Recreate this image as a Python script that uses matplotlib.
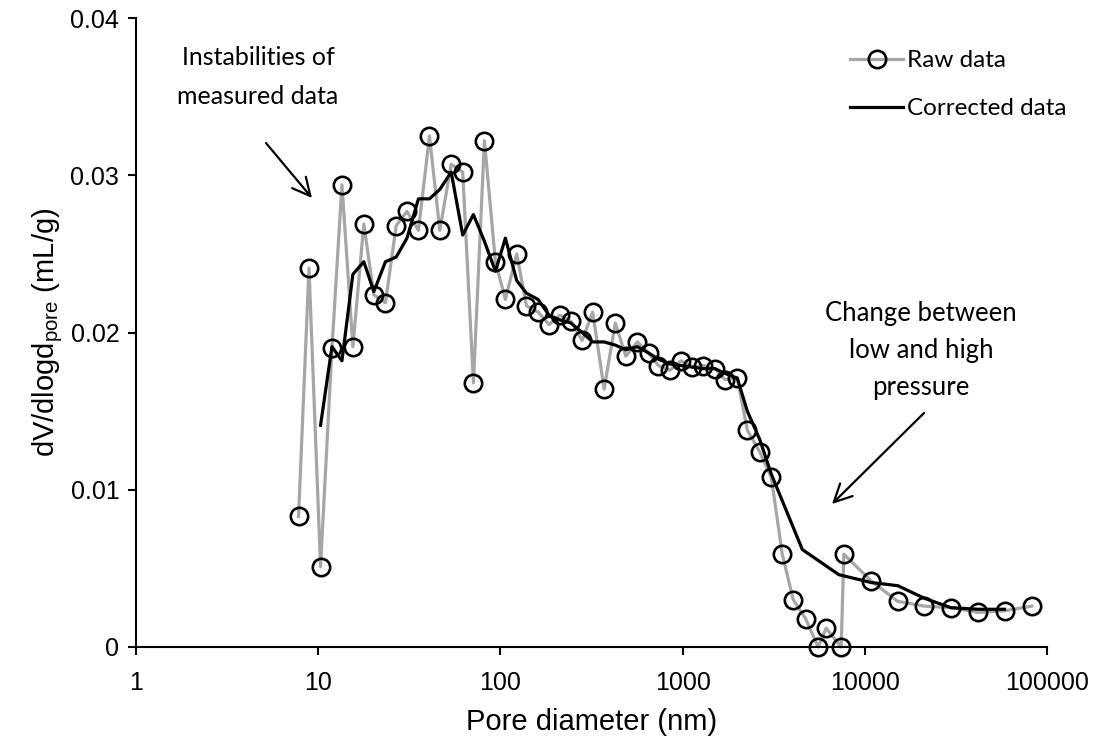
import numpy as np
import matplotlib
matplotlib.use("Agg")
import matplotlib.pyplot as plt

plt.rcParams['font.family'] = ['Liberation Sans', 'DejaVu Sans']

# Raw data
raw_d = [7.8, 8.9, 10.3, 11.9, 13.5, 15.5, 17.8, 20.2, 23.4, 26.8, 30.7, 35.5,
         40.8, 46.5, 53.7, 62.1, 71.1, 81.7, 93.9, 106.5, 122.9, 139, 161, 185,
         212, 244, 281, 321, 371, 427, 488, 565, 650, 737, 851, 978, 1132, 1295,
         1507, 1709, 1996, 2265, 2650, 3067, 3524, 4049, 4734, 5545, 6135, 7418,
         7674, 10840, 15170, 21230, 29700, 41760, 58450, 82550]
raw_v = [0.0083, 0.0241, 0.0051, 0.0190, 0.0294, 0.0191, 0.0269, 0.0224, 0.0219,
         0.0268, 0.0277, 0.0265, 0.0325, 0.0265, 0.0307, 0.0302, 0.0168, 0.0322,
         0.0245, 0.0221, 0.0250, 0.0217, 0.0213, 0.0205, 0.0211, 0.0207, 0.0195,
         0.0213, 0.0164, 0.0206, 0.0185, 0.0194, 0.0187, 0.0179, 0.0176, 0.0182,
         0.0178, 0.0179, 0.0177, 0.0170, 0.0171, 0.0138, 0.0124, 0.0108, 0.0059,
         0.0030, 0.0018, 0.0, 0.0012, 0.0, 0.0059, 0.0042, 0.0029, 0.0026, 0.0025,
         0.0022, 0.0023, 0.0026]

# Corrected data
corr_d = [10.3, 11.9, 13.5, 15.5, 17.8, 20.2, 23.4, 26.8, 30.7, 35.5, 40.8, 46.5,
          53.7, 62.1, 71.1, 81.7, 93.9, 106.5, 122.9, 139, 161, 185, 212, 244,
          281, 321, 371, 427, 488, 565, 650, 737, 851, 978, 1132, 1295, 1507,
          1709, 1996, 2265, 2650, 3067, 4540, 7200, 10840, 15170, 21230, 29700,
          41760, 58450]
corr_v = [0.0141, 0.0191, 0.0182, 0.0237, 0.0245, 0.0226, 0.0245, 0.0248, 0.0260,
          0.0285, 0.0285, 0.0291, 0.0302, 0.0262, 0.0275, 0.0258, 0.0239, 0.0260,
          0.0233, 0.0225, 0.0221, 0.0211, 0.0208, 0.0206, 0.0200, 0.0194, 0.0194,
          0.0192, 0.0189, 0.0191, 0.0187, 0.0183, 0.0180, 0.0179, 0.0178, 0.0177,
          0.0177, 0.0174, 0.0171, 0.0150, 0.0132, 0.0110, 0.0062, 0.0046, 0.0041,
          0.0039, 0.0031, 0.0025, 0.0024, 0.0024]

x_ticks = [1, 10, 100, 1000, 10000, 100000]
x_tick_labels = ['1', '10', '100', '1000', '10000', '100000']
y_ticks = [0, 0.01, 0.02, 0.03, 0.04]
y_tick_labels = ['0', '0.01', '0.02', '0.03', '0.04']

fig = plt.figure(figsize=(10.95, 7.47), dpi=100)
ax = fig.add_axes([136 / 1095, 100 / 747, 911 / 1095, 629 / 747])

ax.plot(raw_d, raw_v, color='#a6a6a6', lw=2.3, marker='o', markersize=12.5,
        markerfacecolor='none', markeredgecolor='black', markeredgewidth=1.9,
        label='Raw data', zorder=2, clip_on=False)
ax.plot(corr_d, corr_v, color='black', lw=2.3, label='Corrected data', zorder=3)

ax.set_xscale('log')
ax.set_xlim(1, 100000)
ax.set_ylim(0, 0.04)
ax.set_xticks(x_ticks)
ax.set_xticklabels(x_tick_labels)
ax.minorticks_off()
ax.set_yticks(y_ticks)
ax.set_yticklabels(y_tick_labels)
ax.tick_params(axis='both', labelsize=18, width=1.5, length=6, direction='out')
ax.tick_params(axis='x', pad=11)
ax.tick_params(axis='y', pad=6)
for s in ['top', 'right']:
    ax.spines[s].set_visible(False)
for s in ['left', 'bottom']:
    ax.spines[s].set_linewidth(1.5)

ax.set_xlabel('Pore diameter (nm)', fontsize=21, labelpad=10)
ax.set_ylabel(r'dV/dlogd$_\mathregular{pore}$ (mL/g)', fontsize=21, labelpad=4)

ann_font = ['Lato', 'DejaVu Sans']
fig.text(258 / 1095, 1 - 77 / 747, 'Instabilities of\nmeasured data',
         ha='center', va='center', fontsize=18, family=ann_font, linespacing=1.85)
fig.text(921 / 1095, 1 - 350 / 747, 'Change between\nlow and high\npressure',
         ha='center', va='center', fontsize=18.5, family=ann_font, linespacing=1.6)

arrow = dict(arrowstyle='->', lw=1.6, color='black', mutation_scale=32,
             shrinkA=0, shrinkB=0)
ax.annotate('', xy=(312 / 1095, 1 - 198 / 747), xycoords='figure fraction',
            xytext=(266 / 1095, 1 - 143 / 747), textcoords='figure fraction',
            arrowprops=arrow)
ax.annotate('', xy=(832 / 1095, 1 - 504 / 747), xycoords='figure fraction',
            xytext=(924 / 1095, 1 - 413 / 747), textcoords='figure fraction',
            arrowprops=arrow)

leg = ax.legend(loc='upper left', bbox_to_anchor=(850 / 1095, 1 - 50 / 747),
                bbox_transform=fig.transFigure, frameon=False,
                prop={'family': ann_font, 'size': 17.5}, handlelength=2.2,
                handletextpad=0.15, labelspacing=1.12, borderpad=0, borderaxespad=0)

fig.savefig('out.png', dpi=100)
